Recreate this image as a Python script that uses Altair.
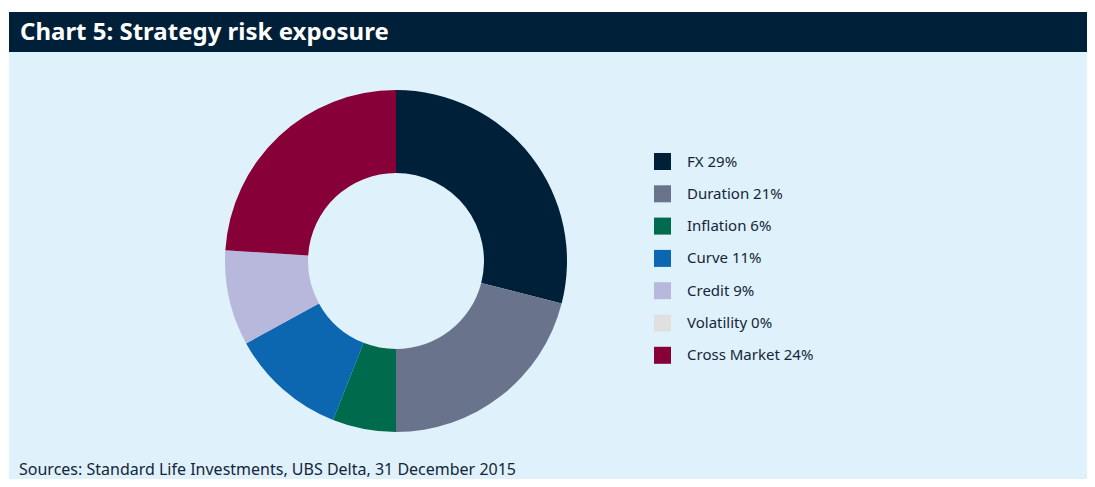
import altair as alt
import pandas as pd

categories = ["FX", "Duration", "Inflation", "Curve", "Credit", "Volatility", "Cross Market"]
values = [29, 21, 6, 11, 9, 0, 24]
colors = ["#001f38", "#69748c", "#006a4d", "#0c66b0", "#b8b8dd", "#e0e0e0", "#870038"]
title_text = "Chart 5: Strategy risk exposure"
source_text = "Sources: Standard Life Investments, UBS Delta, 31 December 2015"

labels = [f"{c} {v}%" for c, v in zip(categories, values)]
df = pd.DataFrame({"label": labels, "value": values, "order": list(range(len(labels)))})

W, H = 1079, 471
FONT = "Noto Sans"
TXT = "#15253a"
one = pd.DataFrame({"a": [0]})

panel = alt.Chart(one).mark_rect(color="#dff1fb").encode(
    x=alt.value(1), x2=alt.value(W), y=alt.value(44), y2=alt.value(H)
)
bar = alt.Chart(one).mark_rect(color="#001f38").encode(
    x=alt.value(1), x2=alt.value(W), y=alt.value(4), y2=alt.value(44)
)
title = alt.Chart(one).mark_text(
    text=title_text, font=FONT, fontWeight="bold", fontSize=24, color="white",
    align="left", baseline="middle"
).encode(x=alt.value(12), y=alt.value(25))
source = alt.Chart(one).mark_text(
    text=source_text, font=FONT, fontSize=16, color=TXT,
    align="left", baseline="middle"
).encode(x=alt.value(11), y=alt.value(462))

donut = alt.Chart(df).mark_arc(innerRadius=88, outerRadius=171).encode(
    theta=alt.Theta("value:Q", stack=True),
    color=alt.Color(
        "label:N",
        scale=alt.Scale(domain=labels, range=colors),
        legend=alt.Legend(
            title=None, orient="none", legendX=646, legendY=145,
            symbolType="square", symbolSize=289, symbolStrokeWidth=0,
            symbolOpacity=1, labelFontSize=15, labelFont=FONT, labelColor=TXT,
            rowPadding=15.3, labelOffset=16, padding=0,
        ),
    ),
    order=alt.Order("order:Q"),
    x=alt.value(388),
    y=alt.value(253),
)

chart = alt.layer(panel, bar, title, source, donut).properties(
    width=W, height=H, padding=0, autosize="none", background="white"
).configure_view(stroke=None)

chart.save("out.html", embed_options={"renderer": "svg", "actions": False})
